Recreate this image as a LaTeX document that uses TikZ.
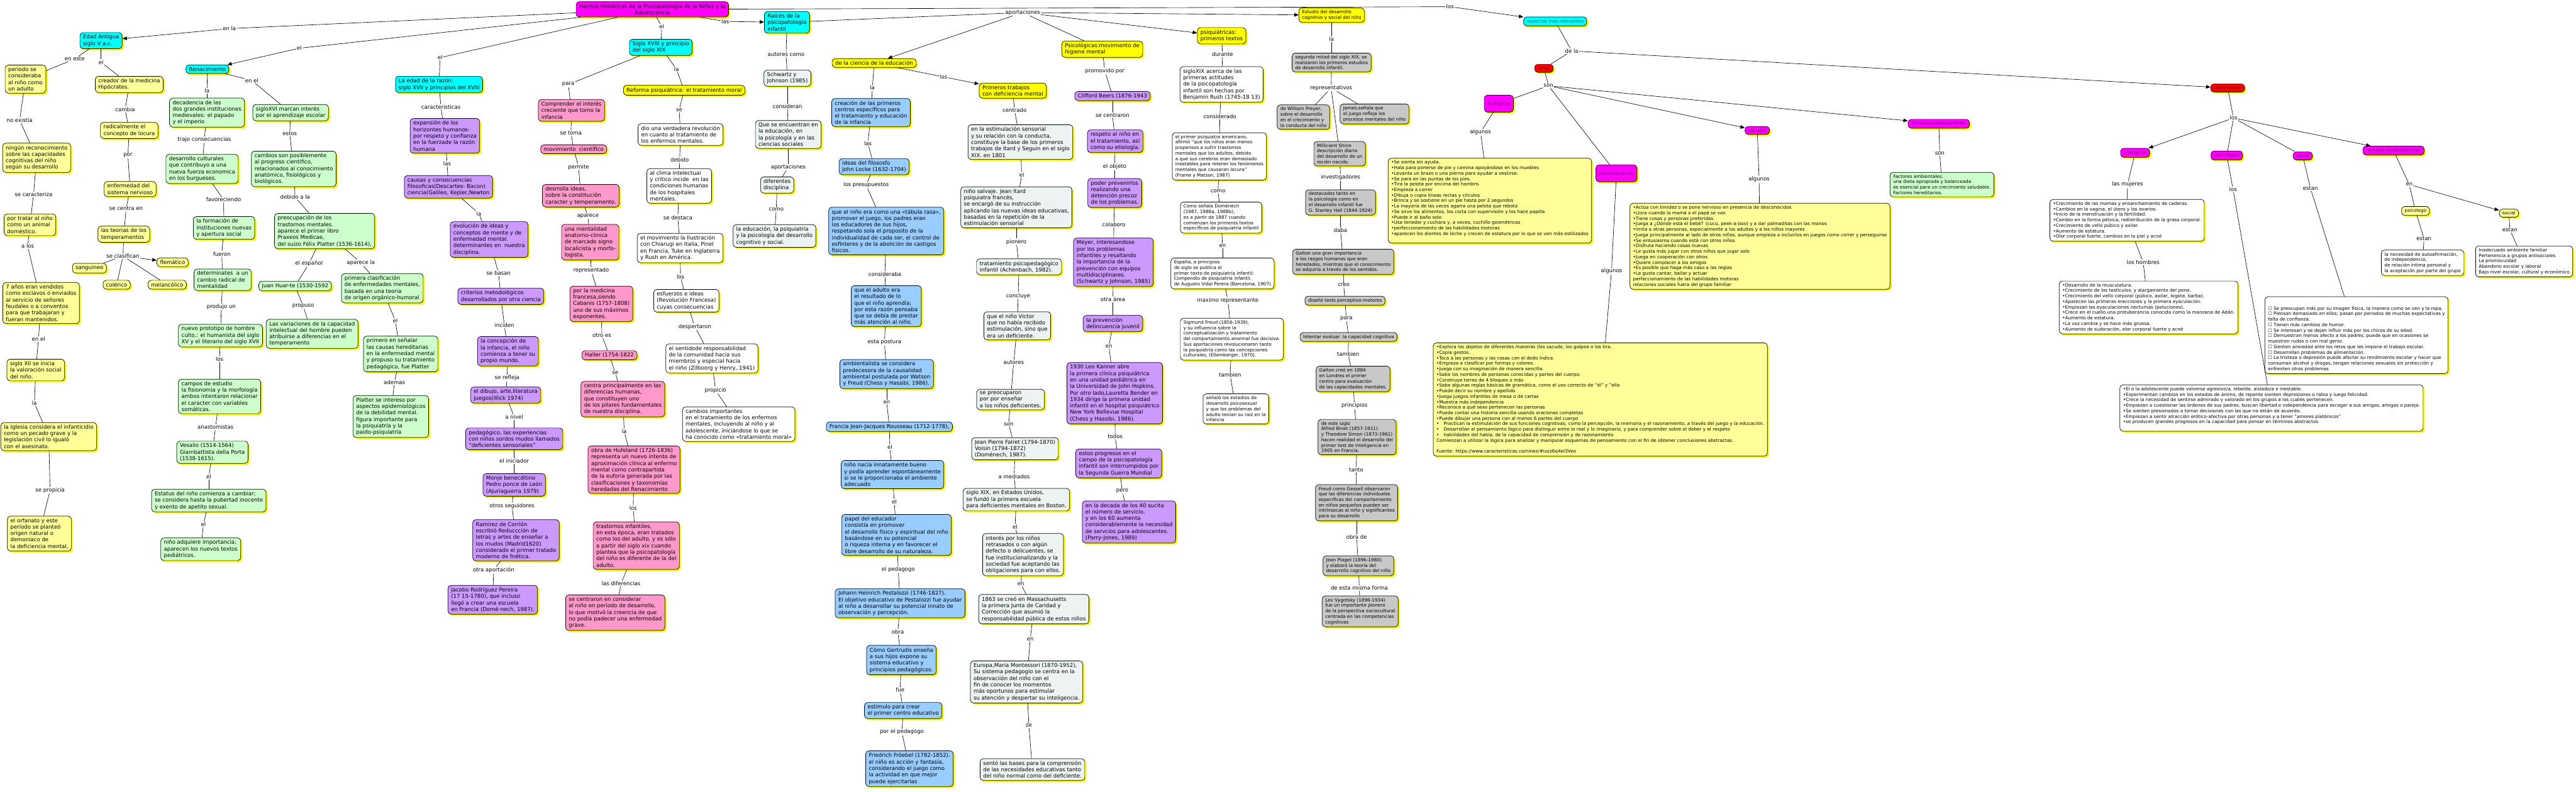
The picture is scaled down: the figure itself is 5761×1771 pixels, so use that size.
\documentclass[tikz,border=0pt]{standalone}
\usepackage{fontspec}
\setmainfont{DejaVu Sans}
\usetikzlibrary{arrows.meta,shadows}

\definecolor{colCyan}{HTML}{00FFFF}
\definecolor{colMag}{HTML}{FF00FF}
\definecolor{colYel}{HTML}{FFFF00}
\definecolor{colPale}{HTML}{FFFF99}
\definecolor{colGreen}{HTML}{CCFFCC}
\definecolor{colPurple}{HTML}{CC99FF}
\definecolor{colPink}{HTML}{FF99CC}
\definecolor{colBlue}{HTML}{99CCFF}
\definecolor{colMist}{HTML}{EDF3F3}
\definecolor{colGray}{HTML}{C8C8C8}
\definecolor{colRed}{HTML}{FF0000}

\newcommand{\bigtxt}{\fontsize{12}{14.5}\selectfont}
\newcommand{\smalltxt}{\fontsize{10.2}{12.3}\selectfont}

\tikzset{
  cbox/.style={draw, line width=1pt, rounded corners=7pt, align=left,
    inner xsep=7pt, inner ysep=5pt, font=\bigtxt,
    drop shadow={shadow xshift=4pt, shadow yshift=-4pt, fill=colYel, opacity=1}},
  smallfont/.style={font=\smalltxt},
  cyanbox/.style={cbox, fill=colCyan},
  magbox/.style={cbox, fill=colMag},
  yelbox/.style={cbox, fill=colYel},
  paleybox/.style={cbox, fill=colPale},
  greenbox/.style={cbox, fill=colGreen},
  purplebox/.style={cbox, fill=colPurple},
  pinkbox/.style={cbox, fill=colPink},
  bluebox/.style={cbox, fill=colBlue},
  mistbox/.style={cbox, fill=colMist},
  whitebox/.style={cbox, fill=white},
  graybox/.style={cbox, fill=colGray, smallfont},
  magtag/.style={magbox, smallfont, text=black!55!colMag},
  redtag/.style={cbox, fill=colRed, smallfont, text=black!60!colRed},
  rel/.style={inner sep=1.5pt, font=\bigtxt},
  link/.style={line width=0.9pt},
  arr/.style={link, -{Triangle[length=10pt,width=8pt]}}
}

\begin{document}
\begin{tikzpicture}[x=1pt,y=-1pt]
\useasboundingbox (0,0) rectangle (5761,1771);

\node[magbox, align=center] (top) at (1459,21) {Hechos Históricos de la Psicopatología de la Niñez y la\\Adolescencia};

\node[cyanbox] (a0) at (226,91) {Edad Antigua\\siglo V a.c.};
\node[paleybox] (a1) at (57,177) {periodo se\\consideraba\\al niño como\\un adulto};
\node[paleybox] (a2) at (82,353) {ningún reconocimiento\\sobre las capacidades\\cognitivas del niño\\según su desarrollo};
\node[paleybox] (a3) at (67,503) {por tratar al niño\\como un animal\\doméstico.};
\node[paleybox] (a4) at (92,678) {7 años eran vendidos\\como esclavos o enviados\\al servicio de señores\\feudales o a conventos\\para que trabajaran y\\fueran mantenidos.};
\node[paleybox] (a5) at (80,828) {siglo XII se inicia\\la valoración social\\del niño.};
\node[paleybox] (a6) at (109,977) {la Iglesia considera el infanticidio\\como un pecado grave y la\\legislación civil lo igualó\\con el asesinato.};
\node[paleybox] (a7) at (88,1194) {el orfanato y este\\período se planteó\\origen natural o\\demoniaco de\\la deficiencia mental,};

\node[paleybox] (h1) at (289,189) {creador de la medicina\\Hipócrates.};
\node[paleybox] (h2) at (289,292) {radicalmente el\\concepto de locura};
\node[paleybox] (h3) at (291,423) {enfermedad del\\sistema nervioso};
\node[paleybox] (h4) at (277,524) {las teorias de los\\temperamentos};
\node[paleybox] (t1) at (200,600) {sanguineo};
\node[paleybox] (t2) at (386,587) {flemático};
\node[paleybox] (t3) at (261,637) {colérico};
\node[paleybox] (t4) at (374,637) {melancólico};

\node[cyanbox] (r0) at (464,155) {Renacimiento};
\node[greenbox] (r1) at (463,252) {decadencia de las\\dos grandes instituciones\\medievales: el papado\\y el imperio};
\node[greenbox] (r2) at (452,378) {desarrollo culturales\\que contribuyo a una\\nueva fuerza economica\\en los burgueses.};
\node[greenbox] (r3) at (501,510) {la formación de\\instituciones nuevas\\y apertura social};
\node[greenbox] (r4) at (498,626) {determinates\ \ a un\\cambio radical de\\mentalidad};
\node[greenbox] (r5) at (493,751) {nuevo prototipo de hombre\\culto.: el humanista del siglo\\XV y el literario del siglo XVII};
\node[greenbox] (r6) at (491,887) {campos de estudio\\la fisionomia y la morfología\\ambos intentaron relacionar\\el caracter con variables\\somáticas.};
\node[greenbox] (r7) at (475,1012) {Vesalio (1514-1564)\\Giambattista della Porta\\(1538-1615).};
\node[greenbox] (r8) at (467,1120) {Estatus del niño comienza a cambiar;\\se considera hasta la pubertad inocente\\y exento de apetito sexual.};
\node[greenbox] (r9) at (449,1229) {niño adquiere importancia,\\aparecen los nuevos textos\\pediátricos.};
\node[greenbox] (r10) at (650,252) {sigloXVI marcan interés\\por el aprendizaje escolar};
\node[greenbox] (r11) at (657,378) {cambios son posiblemente\\al progreso cientifico,\\relacionados al conocimiento\\anatómico, fisiológicos y\\biológicos.};
\node[greenbox] (r12) at (726,517) {preocupación de los\\trastornos mentales.\\aparece el primer libro\\Praxeos Medicae,\\del suizo Félix Platter (1536-1614),};
\node[greenbox] (r13) at (660,640) {Juan Huar-te (1530-1592};
\node[greenbox] (r14) at (698,747) {Las variaciones de la capacidad\\intelectual del hombre pueden\\atribuirse a diferencias en el\\temperamento};
\node[greenbox] (r15) at (855,645) {primera clasificación\\de enfermedades mentales,\\basada en una teoria\\de origen orgánico-humoral};
\node[greenbox] (r16) at (896,792) {primero en señalar\\las causas hereditarias\\en la enfermedad mental\\y propuso su tratamiento\\pedagógico, fue Platter};
\node[greenbox] (r17) at (874,932) {Platter se intereso por\\aspectos epidemiológicos\\de la debilidad mental.\\figura importante para\\la psiquiatría y la\\paido-psiquiatría};

\node[cyanbox] (z0) at (982,189) {La edad de la razón:\\siglo XVII y principios del XVIII};
\node[purplebox] (z1) at (995,304) {expansión de los\\horizontes humanos-\\por respeto y confianza\\en la fuerzade la razón\\humana};
\node[purplebox] (z2) at (1003,418) {causas y consecuencias\\filosoficas(Descartes- Bacon)\\ciencia(Galileo, Kepler,Newton};
\node[purplebox] (z3) at (1094,536) {evolución de ideas y\\conceptos de mente y de\\enfermedad mental.\\determinantes en\ \ nuestra\\disciplina.};
\node[purplebox] (z4) at (1120,663) {criterios metodológicos\\desarrollados por otra ciencia};
\node[purplebox] (z5) at (1136,786) {la concepción de\\la infancia, el niño\\comienza a tener su\\propio mundo.};
\node[purplebox] (z6) at (1131,884) {el dibujo, arte,literatura\\juegos(Illick 1974)};
\node[purplebox] (z7) at (1150,982) {pedagógico, las experiencias\\con niños sordos mudos llamados\\"deficientes sensoriales"};
\node[purplebox] (z8) at (1150,1085) {Monje benecditino\\Pedro ponce de León\\(Ajuriaguerra 1979)};
\node[purplebox] (z9) at (1154,1209) {Ramirez de Corrión\\escribió Reduccción de\\letras y artes de enseñar a\\los mudos (Madrid1620)\\considerado el primer tratado\\moderno de fnética.};
\node[purplebox] (z10) at (1102,1342) {Jacobo Rodríguez Pereira\\(17 15-1780), que incluso\\llegó a crear una escuela\\en Francia (Domé-nech, 1987).};

\node[cyanbox] (p0) at (1478,106) {Siglo XVIII y principio\\del siglo XIX};
\node[pinkbox] (p1) at (1278,247) {Comprender el interés\\creciente que tomo la\\infancia};
\node[pinkbox] (p2) at (1283,334) {movimiento\ \ científico};
\node[pinkbox] (p3) at (1299,438) {desrrolla ideas,\\sobre la constitución\\caracter y temperamento.};
\node[pinkbox] (p4) at (1320,542) {una mentalidad\\anatomo-clinica\\de marcado signo\\localicista y morfo-\\logista.};
\node[pinkbox] (p5) at (1345,680) {por la medicina\\francesa,siendo\\Cabanis (1757-1808)\\uno de sus máximos\\exponentes.};
\node[pinkbox] (p6) at (1363,795) {Haller (1754-1822};
\node[pinkbox] (p7) at (1393,893) {centra principalmente en las\\diferencias humanas,\\que constituyen uno\\de los pilares fundamentales\\de nuestra disciplina.};
\node[pinkbox] (p8) at (1418,1051) {obra de Hufeland (1726-1836)\\representa un nuevo intento de\\aproximación clínica al enfermo\\mental como contrapartida\\de la euforia generada por las\\clasificaciones y taxonomías\\heredadas del Renacimiento};
\node[pinkbox] (p9) at (1423,1221) {trastornos infantiles,\\en esta época, eran tratados\\como los del adulto, y es sólo\\a partir del siglo xix cuando\\plantea que la psicopatología\\del niño es diferente de la del\\adulto.};
\node[pinkbox] (p10) at (1376,1371) {se centraron en considerar\\al niño en período de desarrollo,\\lo que motivó la creencia de que\\no podía padecer una enfermedad\\grave.};

\node[yelbox] (f0) at (1530,202) {Reforma psiquiátrica: el tratamiento moral};
\node[whitebox] (f1) at (1522,301) {dio una verdadera revolución\\en cuanto al tratamiento de\\los enfermos mentales.};
\node[whitebox] (f2) at (1519,416) {al clima intelectual\\y crítico incide\ \ en las\\condiciones humanas\\de los hospitales\\mentales.};
\node[whitebox] (f3) at (1521,555) {el movimiento la Ilustración\\con Chiarugi en Italia, Pinel\\en Francia, Tuke en Inglaterra\\y Rush en América.};
\node[whitebox] (f4) at (1535,673) {esfuerzos e ideas\\(Revolución Francesa)\\cuyas consecuencias};
\node[whitebox] (f5) at (1592,802) {el sentidode responsabilidad\\de la comunidad hacia sus\\miembros y especial hacia\\el niño (Zilboorg y Henry, 1941)};
\node[whitebox] (f6) at (1652,949) {cambios importantes\\en el tratamiento de los enfermos\\mentales, incluyendo al niño y al\\adolescente, iniciándose lo que se\\ha conocido como «tratamiento moral»};

\node[cyanbox] (q0) at (1760,50) {Raíces de la\\psicopatología\\infantil};
\node[mistbox] (q1) at (1761,175) {Schwartz y\\Johnson (1985)};
\node[mistbox] (q2) at (1763,301) {Que se encuentran en\\la educación, en\\la psicología y en las\\ciencias sociales};
\node[mistbox] (q3) at (1738,414) {diferentes\\disciplina};
\node[mistbox] (q4) at (1732,528) {la educación, la psiquiatría\\y la psicología del desarrollo\\cognitivo y social.};

\node[yelbox] (e0) at (1955,141) {de la ciencia de la educación};
\node[bluebox] (e1) at (1948,252) {creación de las primeros\\centros específicos para\\el tratamiento y educación\\de la infancia};
\node[bluebox] (e2) at (1955,373) {ideas del filososfo\\John Locke (1632-1704)};
\node[bluebox] (e3) at (1982,517) {que el niño era como una «tábula rasa»,\\promover el juego, los padres eran\\los educadores de sus hijos,\\respetando sola el proposito de la\\individualidad de cada ser, el control de\\esfinteres y de la abolición de castigos\\fisicos.};
\node[bluebox] (e4) at (1982,685) {que el adulto era\\el resultado de lo\\que el niño aprendía;\\por esta razón pensaba\\que se debía de prestar\\más atención al niño.};
\node[bluebox] (e5) at (1983,837) {ambientalista se considera\\predecesora de la causalidad\\ambiental postulada por Watson\\y Freud (Chess y Hassibi, 1986).};
\node[bluebox] (e6) at (1989,955) {Francia Jean-Jacques Rousseau (1712-1778),};
\node[bluebox] (e7) at (1996,1062) {niño nacía innatamente bueno\\y podía aprender espontáneamente\\si se le proporcionaba el ambiente\\adecuado};
\node[bluebox] (e8) at (2005,1197) {papel del educador\\consistía en promover\\el desarrollo físico y espiritual del niño\\basándose en su potencial\\o riqueza interna y en favorecer el\\libre desarrollo de su naturaleza.};
\node[bluebox] (e9) at (2013,1350) {Johann Heinrich Pestalozzi (1746-1827).\\El objetivo educativo de Pestalozzi fue ayudar\\al niño a desarrollar su potencial innato de\\observación y percepción.};
\node[bluebox] (e10) at (2016,1477) {Cómo Gertrudis enseña\\a sus hijos expone su\\sistema educativo y\\principios pedagógicos.};
\node[bluebox] (e11) at (2020,1590) {estimulo para crear\\el primer centro educativo};
\node[bluebox] (e12) at (2034,1720) {Friedrich Fróebel (1782-1852).\\el niño es acción y fantasía,\\considerando el juego como\\la actividad en que mejor\\puede ejercitarlas};

\node[yelbox] (d0) at (2265,203) {Primeros trabajos\\con deficiencia mental};
\node[mistbox] (d1) at (2282,318) {en la estimulación sensorial\\y su relación con la conducta,\\constituye la base de los primeros\\trabajos de Itard y Seguin en el siglo\\XIX. en 1801};
\node[mistbox] (d2) at (2273,464) {niño salvaje. Jean Itard\\psiquiatra francés,\\se encargó de su instrucción\\aplicando las nuevas ideas educativas,\\basadas en la repetición de la\\estimulación sensorial};
\node[mistbox] (d3) at (2279,597) {tratamiento psicopedagógico\\infantil (Achenbach, 1982).};
\node[mistbox] (d4) at (2275,729) {que el niño Victor\\que no había recibido\\estimulación, sino que\\era un deficiente.};
\node[mistbox] (d5) at (2260,894) {se preocuparon\\por por enseñar\\a los niños deficientes.};
\node[mistbox] (d6) at (2270,1004) {Jean Pierre Falret (1794-1870)\\Voisin (1794-1872)\\(Doménech, 1987).};
\node[mistbox] (d7) at (2273,1118) {siglo XIX, en Estados Unidos,\\se fundó la primera escuela\\para deficientes mentales en Boston.};
\node[mistbox] (d8) at (2288,1241) {interés por los niños\\retrasados o con algún\\defecto o delicuentes, se\\fue institucionalizando y la\\sociedad fue aceptando las\\obligaciones para con ellos.};
\node[mistbox] (d9) at (2312,1363) {1863 se creó en Massachusetts\\la primera Junta de Caridad y\\Corrección que asumió la\\responsabilidad pública de estos niños};
\node[mistbox] (d10) at (2296,1526) {Europa,Maria Montessori (1870-1952),\\Su sistema pedagogio se centra en la\\observaciión del niño con el\\fin de conocer los momentos\\más oportunos para estimular\\su atención y despertar su inteligencia.};
\node[mistbox] (d11) at (2309,1722) {sentó las bases para la comprensión\\de las necesidades educativas tanto\\del niño normal como del deficiente.};

\node[yelbox] (m0) at (2465,110) {Psicológicas:movimiento de\\higiene mental};
\node[purplebox] (m1) at (2488,215) {Clifford Beers (1876-1943};
\node[purplebox] (m2) at (2494,316) {respeto al niño en\\el tratamiento, así\\como su etiología.};
\node[purplebox] (m3) at (2493,432) {poder prevenirlos\\realizando una\\detención precoz\\de los problemas.};
\node[purplebox] (m4) at (2490,587) {Meyer, interesandose\\por los problemas\\infantiles y resaltando\\la importancia de la\\prevención con equipos\\multidisciplinares.\\(Schwartz y Johnson, 1985)};
\node[purplebox] (m5) at (2489,724) {la prevención\\delincuencia juvenil};
\node[purplebox] (m6) at (2493,880) {1930 Leo Kanner abre\\la primera clínica psiquiátrica\\en una unidad pediátrica en\\la Universidad de John Hopkins.\\Por otro lado,Lauretta Bender en\\1934 dirige la primera unidad\\infantil en el hospital psiquiátrico\\New York Bellevue Hospital\\(Chess y Hassibi, 1986).};
\node[purplebox] (m7) at (2502,1037) {estos progresos en el\\campo de la psicopatología\\infantil son interrumpidos por\\la Segunda Guerra Mundial};
\node[purplebox] (m8) at (2525,1168) {en la decada de los 40 sucita\\el número de servicio.\\y en los 60 aumenta\\considerablemente la necesidad\\de servcios para adolescentes.\\(Parry-Jones, 1989)};

\node[yelbox] (s0) at (2732,80) {psiquiátricas:\\primeros textos};
\node[whitebox] (s1) at (2732,189) {sigloXIX acerca de las\\primeras actitudes\\de la psicopatología\\infantil son hechas por\\Benjamin Rush (1745-18 13)};
\node[whitebox, smallfont] (s2) at (2727,350) {el primer psiquiatra americano,\\afirmó "que los niños eran menos\\propensos a sufrir trastornos\\mentales que los adultos, debido\\a que sus cerebros eran demasiado\\inestables para retener los fenómenos\\mentales que causaran locura"\\(Frame y Matson, 1987)};
\node[whitebox, smallfont] (s3) at (2731,487) {Como señala Doménech\\(1987, 1988a, 1988b),\\es a partir de 1887 cuando\\comienzan los primeros textos\\específicos de psiquiatría infantil};
\node[whitebox, smallfont] (s4) at (2734,612) {España, a principios\\de siglo se publica el\\primer texto de psiquiatría infantil:\\Compendio de psiquiatría infantil,\\de Augusto Vidal Perera (Barcelona, 1907)};
\node[whitebox, smallfont] (s5) at (2755,759) {Sigmund Freud (1856-1939),\\y su influencia sobre la\\conceptualización y tratamiento\\del comportamiento anormal fue decisiva.\\Sus aportaciones revolucionaron tanto\\la psiquiatría como las concepciones\\culturales, (Ellemberger, 1970).};
\node[whitebox, smallfont] (s6) at (2764,915) {señaló los estadios de\\desarrollo psicosexual\\y que los problemas del\\adulto tenían su raíz en la\\infancia};

\node[yelbox, smallfont] (g0) at (2978,34) {Estudio del desarrollo\\cognitivo y social del niño};
\node[graybox] (g1) at (2978,140) {segunda mitad del siglo XIX, se\\realizaron los primeros estudios\\de desarrollo infantil.};
\node[graybox] (g2) at (2915,262) {de William Preyer,\\sobre el desarrollo\\en el crecimiento y\\la conducta del niño};
\node[graybox] (g3) at (3074,255) {James,señala que\\el juego refleja los\\procesos mentales del niño};
\node[graybox] (g4) at (2996,344) {Millicient Shinn\\descripción diaria\\del desarrollo de un\\recién nacido.};
\node[graybox] (g5) at (2998,453) {destacados tanto en\\la psicología como en\\el desarrollo infantil fue\\G. Stanley Hall (1844-1924)};
\node[graybox] (g6) at (3004,586) {Galton una gran importancia\\a los rasgos humanos que eran\\heredados, mientras que el conocimiento\\se adquiría a través de los sentidos.};
\node[graybox] (g7) at (3008,673) {diseñó tests perceptivo-motores};
\node[graybox] (g8) at (3016,754) {Intentar evaluar\ \ la capacidad cognitiva};
\node[graybox] (g9) at (3026,848) {Galton creó en 1884\\en Londres el primer\\centro para evaluación\\de las capacidades mentales.};
\node[graybox] (g10) at (3035,978) {de este siglo\\Alfred Binet (1857-1911)\\y Theodore Simon (1873-1961)\\hacen realidad el desarrollo del\\primer test de inteligencia en\\1905 en Francia.};
\node[graybox] (g11) at (3034,1125) {Freud como Gessell observaron\\que las diferencias individuales\\especificas del comportamiento\\en niños pequeños pueden ser\\intrínsecas al niño y significantes\\para su desarrollo};
\node[graybox] (g12) at (3038,1266) {Jean Piaget (1896-1980).\\y elaboró la teoría del\\desarrollo cognitivo del niño};
\node[graybox] (g13) at (3042,1368) {Lev Vygotsky (1896-1934)\\fue un importante pionero\\de la perspectiva sociocultural\\centrada en las competencias\\cognitivas};

\node[cyanbox, smallfont, text=black!55!colCyan] (asp) at (3478,48) {aspectos más relevantes};
\node[redtag] (nin) at (3453,153) {niñez};
\node[magtag, minimum height=38pt] (nb) at (3352,232) {biológicos};
\node[magtag, minimum height=38pt] (np) at (3615,388) {psicológicos de};
\node[magtag] (ns) at (3930,292) {sociales};
\node[magtag] (nf) at (4336,277) {factores predisponentes};
\node[paleybox, smallfont] (nbl) at (3332,449) {•Se sienta sin ayuda.\\•Hala para ponerse de pie y camina apoyándose en los muebles\\•Levanta un brazo o una pierna para ayudar a vestirse.\\•Se para en las puntas de los pies.\\•Tira la pelota por encima del hombro.\\•Empieza a correr\\•Dibuja o copia líneas rectas y círculos\\•Brinca y se sostiene en un pie hasta por 2 segundos\\•La mayoría de las veces agarra una pelota que rebota\\•Se sirve los alimentos, los corta con supervisión y los hace papilla\\•Puede ir al baño solo\\•Usa tenedor y cuchara y, a veces, cuchillo geométricas\\•perfeccionamiento de las habilidades motoras\\•aparecen los dientes de leche y crecen de estatura por lo que se ven más estilizados\\\mbox{}};
\node[paleybox, smallfont] (npl) at (3579,894) {•Explora los objetos de diferentes maneras (los sacude, los golpea o los tira.\\•Copia gestos.\\•Toca a las personas y las cosas con el dedo índice.\\•Empieza a clasificar por formas y colores.\\•Juega con su imaginación de manera sencilla.\\•Sabe los nombres de personas conocidas y partes del cuerpo.\\•Construye torres de 4 bloques o más\\•Sabe algunas reglas básicas de gramática, como el uso correcto de "él" y "ella\\•Puede decir su nombre y apellido\\•Juega juegos infantiles de mesa o de cartas\\•Muestra más independencia\\•Reconoce a qué sexo pertenecen las personas\\•Puede contar una historia sencilla usando oraciones completas\\•Puede dibujar una persona con al menos 6 partes del cuerpo\\•\quad Practican la estimulación de sus funciones cognitivas, como la percepción, la memoria y el razonamiento, a través del juego y la educación.\\•\quad Desarrollan el pensamiento lógico para distinguir entre lo real y lo imaginario, y para comprender sobre el deber y el respeto\\•\quad habilidades del habla, de la capacidad de comprensión y de razonamiento\\Comienzan a utilizar la lógica para analizar y manipular esquemas de pensamiento con el fin de obtener conclusiones abstractas.\\\mbox{}\\Fuente: https://www.caracteristicas.co/ninez/\#ixzz6q4eI3Veo};
\node[paleybox, smallfont] (nsl) at (3936,551) {•Actúa con timidez o se pone nervioso en presencia de desconocidos\\•Llora cuando la mamá o el papá se van\\•Tiene cosas y personas preferidas\\•Juega a ¿Dónde está el bebé? (cucú, peek-a-boo) y a dar palmaditas con las manos\\•Imita a otras personas, especialmente a los adultos y a los niños mayores\\•Juega principalmente al lado de otros niños, aunque empieza a incluirlos en juegos como correr y perseguirse\\•Se entusiasma cuando está con otros niños\\•Disfruta haciendo cosas nuevas\\•Le gusta más jugar con otros niños que jugar solo\\•Juega en cooperación con otros\\•Quiere complacer a los amigos\\•Es posible que haga más caso a las reglas\\•Le gusta cantar, bailar y actuar\\perfeccionamiento de las habilidades motoras\\relaciones sociales fuera del grupo familiar};
\node[greenbox, smallfont] (nfl) at (4343,413) {Factores ambientales.\\una dieta apropiada y balanceada\\es esencial para un crecimiento saludable.\\Factores hereditarios.};

\node[redtag] (ado) at (4982,197) {adolescente};
\node[magtag] (ob) at (4775,342) {biológicos};
\node[magtag] (op) at (4980,348) {psicológico};
\node[magtag] (os) at (5150,349) {social};
\node[magtag] (of) at (5353,337) {factores predisponentes};
\node[whitebox, smallfont] (obm) at (4757,493) {•Crecimiento de las mamas y ensanchamiento de caderas.\\•Cambios en la vagina, el útero y los ovarios.\\•Inicio de la menstruación y la fertilidad.\\•Cambio en la forma pélvica, redistribución de la grasa corporal.\\•Crecimiento de vello púbico y axilar.\\•Aumento de estatura.\\•Olor corporal fuerte, cambios en la piel y acné};
\node[whitebox, smallfont] (obh) at (4805,688) {•Desarrollo de la musculatura.\\•Crecimiento de los testículos, y alargamiento del pene.\\•Crecimiento del vello corporal (púbico, axilar, bigote, barba).\\•Aparecen las primeras erecciones y la primera eyaculación.\\•Empiezan las eyaculaciones nocturnas (poluciones).\\•Crece en el cuello una protuberancia conocida como la manzana de Adán.\\•Aumento de estatura.\\•La voz cambia y se hace más gruesa.\\•Aumento de sudoración, olor corporal fuerte y acné};
\node[whitebox, smallfont] (opl) at (5080,913) {•El o la adolescente puede volverse agresivo/a, rebelde, aislado/a e inestable.\\•Experimentan cambios en los estados de ánimo, de repente sienten depresiones o rabia y luego felicidad.\\•Crece la necesidad de sentirse admirado y valorado en los grupos a los cuales pertenecen.\\•Empiezan a cuestionar las órdenes de sus padres, buscan libertad e independencia para escoger a sus amigos, amigas o pareja.\\•Se sienten presionados a tomar decisiones con las que no están de acuerdo.\\•Empiezan a sentir atracción erótico-afectiva por otras personas y a tener "amores platónicos"\\•se producen grandes progresos en la capacidad para pensar en términos abstractos\\\mbox{}};
\node[whitebox, smallfont] (osl) at (5270,750) {\mbox{}\\\mbox{}\\☐ Se preocupan más por su imagen física, la manera como se ven y la ropa.\\☐ Piensan demasiado en ellos; pasan por periodos de muchas expectativas y\\falta de confianza.\\☐ Tienen más cambios de humor.\\☐ Se interesan y se dejan influir más por los chicos de su edad.\\☐ Demuestran menos afecto a los padres; puede que en ocasiones se\\muestren rudos o con mal genio.\\☐ Sienten ansiedad ante los retos que les impone el trabajo escolar.\\☐ Desarrollan problemas de alimentación.\\☐ La tristeza o depresión puede afectar su rendimiento escolar y hacer que\\consuman alcohol y drogas, tengan relaciones sexuales sin protección y\\enfrenten otros problemas};
\node[paleybox, smallfont] (oy) at (5402,472) {psicologo};
\node[paleybox, smallfont] (oz) at (5611,477) {social};
\node[whitebox, smallfont] (oyl) at (5418,588) {la necesidad de autoafirmación,\\de independencia,\\de relación íntima personal y\\la aceptación por parte del grupo};
\node[whitebox, smallfont] (ozl) at (5645,585) {Inadecuado ambiente familiar\\Pertenencia a grupos antisociales\\La promiscuidad\\Abandono escolar y laboral\\Bajo nivel escolar, cultural y económico};

\node[rel] (ka0) at (513,64) {en la};
\node[rel] (kr0) at (669,108) {el};
\node[rel] (kz0) at (984,129) {el};
\node[rel] (kp0) at (1480,60) {el};
\node[rel] (kq0) at (1622,48) {las};
\node[rel] (kasp) at (3243,15) {los};
\node[rel] (kap) at (2287,28) {aportaciones};
\node[rel] (ka1) at (167,132) {en este};
\node[rel] (kh1) at (226,139) {el};
\node[rel] (ka2) at (44,269) {no existía};
\node[rel] (ka3) at (75,435) {se caracteriza};
\node[rel] (ka4) at (62,551) {a los};
\node[rel] (ka5) at (86,759) {en el};
\node[rel] (ka6) at (77,902) {la};
\node[rel] (ka7) at (112,1097) {se propicia};
\node[rel] (kh2) at (280,245) {cambia};
\node[rel] (kh3) at (286,348) {por};
\node[rel] (kh4) at (282,467) {se centra en};
\node[rel] (kt) at (275,573) {se clasifican};
\node[rel] (kr1) at (463,203) {la};
\node[rel] (kr10) at (563,180) {en el};
\node[rel] (kr2) at (457,313) {trajo consecuencias};
\node[rel] (kr3) at (500,447) {favoreciendo};
\node[rel] (kr4) at (496,568) {fueron};
\node[rel] (kr5) at (495,687) {produjo un};
\node[rel] (kr6) at (491,804) {los};
\node[rel] (kr7) at (482,956) {anastomistas};
\node[rel] (kr8) at (467,1067) {el};
\node[rel] (kr9) at (455,1174) {el};
\node[rel] (kr11) at (648,299) {estos};
\node[rel] (kr12) at (660,441) {debido a la};
\node[rel] (kr13) at (691,590) {el español};
\node[rel] (kr15) at (807,588) {aparece la};
\node[rel] (kr14) at (678,685) {propuso};
\node[rel] (kr16) at (884,718) {el};
\node[rel] (kr17) at (882,856) {ademas};
\node[rel] (kz1) at (986,239) {caracteristicas};
\node[rel] (kz2) at (1000,366) {las};
\node[rel] (kz3) at (1071,478) {la};
\node[rel] (kz4) at (1115,611) {se basan};
\node[rel] (kz5) at (1128,728) {inciden};
\node[rel] (kz6) at (1134,846) {se refleja};
\node[rel] (kz7) at (1150,933) {a nivel};
\node[rel] (kz8) at (1150,1032) {el iniciador};
\node[rel] (kz9) at (1145,1132) {otros seguidores};
\node[rel] (kz10) at (1104,1276) {otra aportación};
\node[rel] (kp1) at (1271,189) {para};
\node[rel] (kf0) at (1513,155) {la};
\node[rel] (kp2) at (1277,298) {se toma};
\node[rel] (kp3) at (1294,374) {permite};
\node[rel] (kp4) at (1315,484) {aparece};
\node[rel] (kp5) at (1322,605) {representado};
\node[rel] (kp6) at (1346,751) {otro es};
\node[rel] (kp7) at (1376,834) {se};
\node[rel] (kp8) at (1396,965) {la};
\node[rel] (kp9) at (1416,1137) {los};
\node[rel] (kp10) at (1389,1306) {las diferencias};
\node[rel] (kf1) at (1519,246) {se};
\node[rel] (kf2) at (1520,358) {debido};
\node[rel] (kf3) at (1516,487) {se destaca};
\node[rel] (kf4) at (1522,619) {los};
\node[rel] (kf5) at (1554,731) {despertaron};
\node[rel] (kf6) at (1600,873) {propició};
\node[rel] (kq1) at (1758,122) {autores como};
\node[rel] (kq2) at (1761,238) {consideran};
\node[rel] (kq3) at (1763,374) {aportaciones};
\node[rel] (kq4) at (1736,468) {como};
\node[rel] (ke1) at (1951,196) {la};
\node[rel] (kd0) at (2110,172) {los};
\node[rel] (ke2) at (1941,321) {las};
\node[rel] (ke3) at (1937,414) {los presupuestos};
\node[rel] (ke4) at (1979,613) {consideraba};
\node[rel] (ke5) at (1978,766) {esta postura};
\node[rel] (ke6) at (1983,900) {en};
\node[rel] (ke7) at (1990,1001) {el};
\node[rel] (ke8) at (2000,1123) {el};
\node[rel] (ke9) at (2009,1275) {el pedagogo};
\node[rel] (ke10) at (2008,1414) {obra};
\node[rel] (ke11) at (2013,1544) {fue};
\node[rel] (ke12) at (2017,1638) {por el pedagogo};
\node[rel] (kd1) at (2269,247) {centrado};
\node[rel] (kd2) at (2285,391) {el};
\node[rel] (kd3) at (2273,541) {pionero};
\node[rel] (kd4) at (2277,662) {concluye};
\node[rel] (kd5) at (2267,811) {autores};
\node[rel] (kd6) at (2256,949) {son};
\node[rel] (kd7) at (2268,1066) {a mediados};
\node[rel] (kd8) at (2270,1179) {el};
\node[rel] (kd9) at (2283,1307) {en};
\node[rel] (kd10) at (2304,1430) {en};
\node[rel] (kd11) at (2301,1624) {se};
\node[rel] (km1) at (2471,159) {promovido por};
\node[rel] (km2) at (2488,258) {se centraron};
\node[rel] (km3) at (2493,373) {el objeto};
\node[rel] (km4) at (2491,502) {colaboro};
\node[rel] (km5) at (2489,670) {otra área};
\node[rel] (km6) at (2480,775) {en};
\node[rel] (km7) at (2494,977) {todos};
\node[rel] (km8) at (2510,1099) {pero};
\node[rel] (ks1) at (2734,122) {durante};
\node[rel] (ks2) at (2728,261) {considerado};
\node[rel] (ks3) at (2724,428) {como};
\node[rel] (ks4) at (2734,550) {en};
\node[rel] (ks5) at (2746,672) {maximo representante};
\node[rel] (ks6) at (2751,839) {tambien};
\node[rel] (kg1) at (2978,88) {la};
\node[rel] (kg) at (2977,197) {representativos};
\node[rel] (kg5) at (2998,397) {investigadores};
\node[rel] (kg6) at (2998,515) {daba};
\node[rel] (kg7) at (3005,638) {creo};
\node[rel] (kg8) at (3011,713) {para};
\node[rel] (kg9) at (3015,792) {tambien};
\node[rel] (kg10) at (3029,908) {principios};
\node[rel] (kg11) at (3033,1051) {tanto};
\node[rel] (kg12) at (3034,1202) {obra de};
\node[rel] (kg13) at (3040,1316) {de esta misma forma};
\node[rel] (knin) at (3515,114) {de la};
\node[rel] (kn) at (3463,192) {son};
\node[rel] (knbl) at (3311,296) {algunos};
\node[rel] (knpl) at (3604,607) {algunos};
\node[rel] (knsl) at (3934,401) {algunos};
\node[rel] (knfl) at (4338,344) {son};
\node[rel] (ko) at (4995,264) {los};
\node[rel] (kobm) at (4758,413) {las mujeres};
\node[rel] (kobh) at (4793,587) {los hombres};
\node[rel] (kopl) at (4994,424) {los};
\node[rel] (kosl) at (5167,421) {estan};
\node[rel] (kof) at (5388,413) {en};
\node[rel] (koyl) at (5421,534) {estan};
\node[rel] (kozl) at (5613,514) {estan};

\foreach \p/\c in {a0/a1,a1/a2,a2/a3,a3/a4,a4/a5,a5/a6,a6/a7,a0/h1,h1/h2,h2/h3,h3/h4,
    r0/r1,r1/r2,r2/r3,r3/r4,r4/r5,r5/r6,r6/r7,r7/r8,r8/r9,
    r0/r10,r10/r11,r11/r12,r12/r13,r13/r14,r12/r15,r15/r16,r16/r17,
    top/z0,z0/z1,z1/z2,z2/z3,z3/z4,z4/z5,z5/z6,z6/z7,z7/z8,z8/z9,z9/z10,
    top/p0,p0/p1,p1/p2,p2/p3,p3/p4,p4/p5,p5/p6,p6/p7,p7/p8,p8/p9,p9/p10,
    p0/f0,f0/f1,f1/f2,f2/f3,f3/f4,f4/f5,f5/f6,q0/q1,q1/q2,q2/q3,q3/q4,
    e0/e1,e1/e2,e2/e3,e3/e4,e4/e5,e5/e6,e6/e7,e7/e8,e8/e9,e9/e10,e10/e11,e11/e12,
    d0/d1,d1/d2,d2/d3,d3/d4,d4/d5,d5/d6,d6/d7,d7/d8,d8/d9,d9/d10,d10/d11,
    m0/m1,m1/m2,m2/m3,m3/m4,m4/m5,m5/m6,m6/m7,m7/m8,s0/s1,s1/s2,s2/s3,s3/s4,s4/s5,s5/s6,
    g0/g1,g4/g5,g5/g6,g6/g7,g7/g8,g8/g9,g9/g10,g10/g11,g11/g12,g12/g13,
    nb/nbl,np/npl,ns/nsl,nf/nfl,ob/obm,obm/obh,op/opl,os/osl,oy/oyl,oz/ozl}
  {\draw[link] (\p) -- (k\c); \draw[link] (k\c) -- (\c);}

\draw[link] (top) -- (ka0); \draw[arr] (ka0) -- (a0);
\draw[link] (top) -- (kr0); \draw[arr] (kr0) -- (r0);
\draw[link] (top) -- (kq0); \draw[arr] (kq0) -- (q0);
\draw[link] (top) -- (kasp); \draw[arr] (kasp) -- (asp);
\draw[link] (q0) -- (kap);
\draw[arr] (kap) -- (g0);
\draw[arr] (kap) -- (e0);
\draw[link] (kap) -- (m0);
\draw[arr] (kap) -- (s0);
\draw[link] (e0) -- (kd0); \draw[arr] (kd0) -- (d0);
\draw[link] (h4) -- (kt);
\foreach \t in {t1,t3,t4}
  \draw[link] (kt) -- (\t);
\draw[arr] (kt) -- (t2);
\draw[link] (g1) -- (kg);
\foreach \t in {g2,g3,g4}
  \draw[link] (kg) -- (\t);
\draw[link] (asp) -- (knin); \draw[link] (knin) -- (nin); \draw[arr] (knin) -- (ado);
\draw[link] (nin) -- (kn);
\draw[link] (kn) -- (nb); \draw[link] (kn) -- (np);
\draw[arr] (kn) -- (ns); \draw[arr] (kn) -- (nf);
\draw[link] (ado) -- (ko);
\draw[arr] (ko) -- (ob); \draw[link] (ko) -- (op); \draw[link] (ko) -- (os); \draw[arr] (ko) -- (of);
\draw[link] (of) -- (kof); \draw[link] (kof) -- (oy); \draw[arr] (kof) -- (oz);

\end{tikzpicture}
\end{document}
